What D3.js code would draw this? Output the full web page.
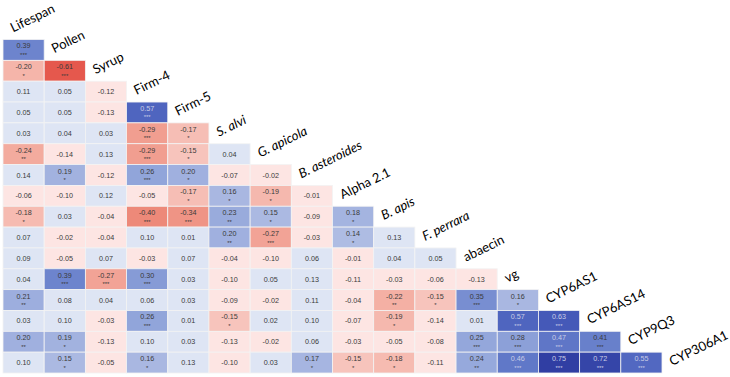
<!DOCTYPE html>
<html>
<head>
<meta charset="utf-8">
<script src="https://cdn.jsdelivr.net/npm/d3@7"></script>
<style>
  html, body { margin: 0; padding: 0; background: #fff; }
  svg { display: block; }
</style>
</head>
<body>
<svg id="chart" width="730" height="377"></svg>
<script>
// Variables (in order)
const labels = ["Lifespan", "Pollen", "Syrup", "Firm-4", "Firm-5", "S. alvi", "G. apicola",
  "B. asteroides", "Alpha 2.1", "B. apis", "F. perrara", "abaecin", "vg",
  "CYP6AS1", "CYP6AS14", "CYP9Q3", "CYP306A1"];
const italicLabels = ["S. alvi", "G. apicola", "B. asteroides", "B. apis", "F. perrara"];

// Lower-triangle correlations: row r (labels[r+1]) vs columns labels[0..r]
const corrRows = [
  [0.39],
  [-0.20, -0.61],
  [0.11, 0.05, -0.12],
  [0.05, 0.05, -0.13, 0.57],
  [0.03, 0.04, 0.03, -0.29, -0.17],
  [-0.24, -0.14, 0.13, -0.29, -0.15, 0.04],
  [0.14, 0.19, -0.12, 0.26, 0.20, -0.07, -0.02],
  [-0.06, -0.10, 0.12, -0.05, -0.17, 0.16, -0.19, -0.01],
  [-0.18, 0.03, -0.04, -0.40, -0.34, 0.23, 0.15, -0.09, 0.18],
  [0.07, -0.02, -0.04, 0.10, 0.01, 0.20, -0.27, -0.03, 0.14, 0.13],
  [0.09, -0.05, 0.07, -0.03, 0.07, -0.04, -0.10, 0.06, -0.01, 0.04, 0.05],
  [0.04, 0.39, -0.27, 0.30, 0.03, -0.10, 0.05, 0.13, -0.11, -0.03, -0.06, -0.13],
  [0.21, 0.08, 0.04, 0.06, 0.03, -0.09, -0.02, 0.11, -0.04, -0.22, -0.15, 0.35, 0.16],
  [0.03, 0.10, -0.03, 0.26, 0.01, -0.15, 0.02, 0.10, -0.07, -0.19, -0.14, 0.01, 0.57, 0.63],
  [0.20, 0.19, -0.13, 0.10, 0.03, -0.13, -0.02, 0.06, -0.03, -0.05, -0.08, 0.25, 0.28, 0.47, 0.41],
  [0.10, 0.15, -0.05, 0.16, 0.13, -0.10, 0.03, 0.17, -0.15, -0.18, -0.11, 0.24, 0.46, 0.75, 0.72, 0.55]
];

// Significance stars (number of asterisks) for the same cells
const starRows = [
  [3],
  [1, 3],
  [0, 0, 0],
  [0, 0, 0, 3],
  [0, 0, 0, 3, 1],
  [2, 0, 0, 3, 1, 0],
  [0, 1, 0, 3, 1, 0, 0],
  [0, 0, 0, 0, 1, 1, 1, 0],
  [1, 0, 0, 3, 3, 2, 1, 0, 1],
  [0, 0, 0, 0, 0, 2, 3, 0, 1, 0],
  [0, 0, 0, 0, 0, 0, 0, 0, 0, 0, 0],
  [0, 3, 3, 3, 0, 0, 0, 0, 0, 0, 0, 0],
  [2, 0, 0, 0, 0, 0, 0, 0, 0, 2, 1, 3, 1],
  [0, 0, 0, 3, 0, 1, 0, 0, 0, 1, 0, 0, 3, 3],
  [2, 1, 0, 0, 0, 0, 0, 0, 0, 0, 0, 3, 3, 3, 3],
  [0, 1, 0, 1, 0, 0, 0, 1, 1, 1, 0, 2, 3, 3, 3, 3]
];

const cells = [];
corrRows.forEach((row, r) => row.forEach((v, c) => {
  cells.push({ row: labels[r + 1], col: labels[c], value: v, stars: starRows[r][c] });
}));

const svg = d3.select("#chart");
const colDomain = labels.slice(0, labels.length - 1);
const rowDomain = labels.slice(1);

const x = d3.scaleBand().domain(colDomain).range([3, 662]).padding(0);
const y = d3.scaleBand().domain(rowDomain).range([39.5, 373]).padding(0);

const posColor = d3.scaleLinear()
  .domain([0, 0.15, 0.25, 0.4, 0.6, 0.8])
  .range(["#dfe6f5", "#abb9e2", "#94a7db", "#6a82cc", "#4a60bd", "#27339a"])
  .clamp(true);
const negColor = d3.scaleLinear()
  .domain([0, 0.15, 0.2, 0.3, 0.4, 0.65])
  .range(["#fde5e3", "#f7c4bc", "#f5b5aa", "#f19b8d", "#ed8979", "#e44f45"])
  .clamp(true);

function fill(d) {
  if (d.stars === 0) return d.value >= 0 ? "#dee5f4" : "#fde5e3";
  return d.value >= 0 ? posColor(d.value) : negColor(-d.value);
}

const g = svg.append("g");
g.selectAll("rect.cell").data(cells).join("rect")
  .attr("class", "cell")
  .attr("x", d => x(d.col))
  .attr("y", d => y(d.row))
  .attr("width", x.bandwidth())
  .attr("height", y.bandwidth())
  .attr("fill", fill)
  .attr("stroke", "#f3f3f3")
  .attr("stroke-width", 0.8);

const cx = d => x(d.col) + x.bandwidth() / 2;
const cy = d => y(d.row) + y.bandwidth() / 2;
const textCol = d => (d.value >= 0.45 ? "#c9cde6" : "#3a3a3a");

g.selectAll("text.val").data(cells).join("text")
  .attr("class", "val")
  .attr("x", cx)
  .attr("y", d => d.stars ? cy(d) - 4 : cy(d))
  .attr("dy", "0.35em")
  .attr("text-anchor", "middle")
  .attr("font-family", "Liberation Sans, Arial, sans-serif")
  .attr("font-size", 7.2)
  .attr("fill", textCol)
  .text(d => d.value.toFixed(2));

g.selectAll("text.star").data(cells.filter(d => d.stars > 0)).join("text")
  .attr("class", "star")
  .attr("x", cx)
  .attr("y", d => cy(d) + 7)
  .attr("text-anchor", "middle")
  .attr("font-family", "Liberation Sans, Arial, sans-serif")
  .attr("font-size", 6)
  .attr("fill", textCol)
  .text(d => "*".repeat(d.stars));

// Diagonal variable labels
const labelPos = labels.map((name, k) => {
  const colStart = k < colDomain.length ? x(name) : x.range()[1];
  const rowTop = k < rowDomain.length ? y(rowDomain[k]) : y.range()[1];
  return { name, lx: colStart + 10, ly: rowTop - 7 };
});

svg.append("g").selectAll("text").data(labelPos).join("text")
  .attr("transform", d => `translate(${d.lx},${d.ly}) rotate(-26)`)
  .attr("font-family", "Lato, 'Open Sans', sans-serif")
  .attr("font-size", 13)
  .attr("font-style", d => italicLabels.includes(d.name) ? "italic" : "normal")
  .attr("fill", "#000")
  .text(d => d.name);
</script>
</body>
</html>
